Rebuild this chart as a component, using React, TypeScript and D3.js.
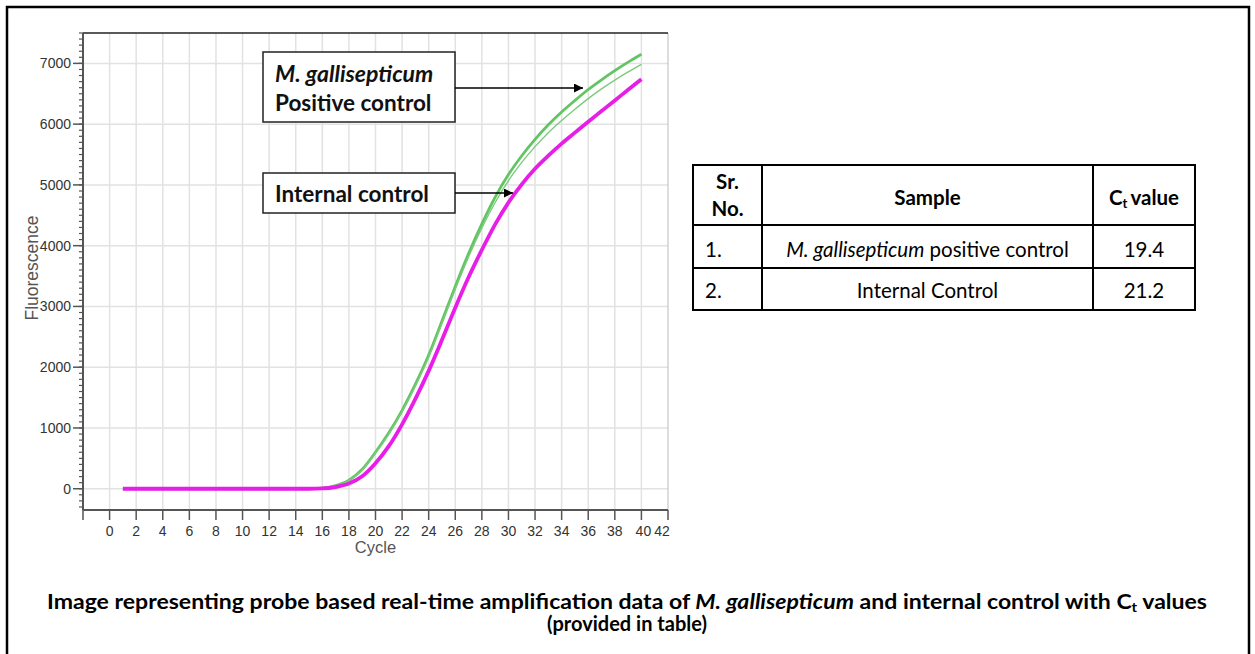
import React from 'react';
import * as d3 from 'd3';

// cycle numbers read on the x axis
const cycles = d3.range(1, 41);

// M. gallisepticum positive control (thick green)
const positiveA = [0, 0, 0, 0, 0, 0, 0, 0, 0, 0, 0, 0, 0, 0, 0, 10, 50, 140, 320, 600,
  920, 1290, 1720, 2200, 2760, 3330, 3870, 4360, 4800, 5170,
  5480, 5750, 5990, 6200, 6390, 6570, 6730, 6880, 7020, 7150];
// second green trace (thin)
const positiveB = [0, 0, 0, 0, 0, 0, 0, 0, 0, 0, 0, 0, 0, 0, 0, 10, 48, 135, 310, 585,
  900, 1265, 1690, 2165, 2720, 3285, 3815, 4290, 4710, 5070,
  5370, 5630, 5860, 6060, 6245, 6420, 6580, 6725, 6860, 6985];
// internal control (magenta)
const internal = [0, 0, 0, 0, 0, 0, 0, 0, 0, 0, 0, 0, 0, 0, 0, 5, 28, 85, 205, 420,
  700, 1060, 1480, 1940, 2450, 2980, 3480, 3930, 4350, 4710,
  5010, 5265, 5480, 5680, 5860, 6040, 6215, 6390, 6565, 6740];

const yTicks = d3.range(0, 8000, 1000);
const yMinor = d3.range(-300, 7600, 100);
const xTicks = d3.range(0, 44, 2);

const tableRows = [
  { no: '1.', italic: 'M. gallisepticum', rest: ' positive control', ct: '19.4' },
  { no: '2.', italic: '', rest: 'Internal Control', ct: '21.2' },
];

const W = 1255;
const H = 654;

export default function App() {
  const left = 83, right = 668, top = 33, bottom = 510;
  const x = d3.scaleLinear().domain([-2, 42]).range([left, right]);
  const y = d3.scaleLinear().domain([-350, 7500]).range([bottom, top]);

  const line = d3.line<number>()
    .x((_, i) => x(cycles[i]))
    .y(d => y(d))
    .curve(d3.curveMonotoneX);

  const axisFont = '"Liberation Sans", Arial, sans-serif';
  const calibri = 'Lato, "Open Sans", sans-serif';

  // table geometry
  const tx0 = 693, tx1 = 762, tx2 = 1093, tx3 = 1195;
  const ty0 = 165, ty1 = 225, ty2 = 268, ty3 = 310;

  return (
    <svg width={W} height={H} style={{ position: 'absolute', left: 0, top: 0 }}>
      <defs>
        <marker id="arrow" viewBox="0 0 10 10" refX="10" refY="5" markerWidth="9" markerHeight="9"
          markerUnits="userSpaceOnUse" orient="auto">
          <path d="M0,0 L10,5 L0,10 z" fill="#000" />
        </marker>
      </defs>
      <rect x={0} y={0} width={W} height={H} fill="#fff" />
      <rect x={7} y={7} width={1242} height={660} fill="none" stroke="#000" strokeWidth={2.5} />

      {/* grid */}
      <g stroke="#e2e2e2" strokeWidth={1.5}>
        {yTicks.map(t => (
          <line key={'gy' + t} x1={left} x2={right} y1={y(t)} y2={y(t)} />
        ))}
        {xTicks.filter(t => t < 42).map(t => (
          <line key={'gx' + t} x1={x(t)} x2={x(t)} y1={top} y2={bottom} />
        ))}
      </g>
      <line x1={right} x2={right} y1={top} y2={bottom} stroke="#bbb" strokeWidth={1} />
      <line x1={left} x2={right} y1={top} y2={top} stroke="#222" strokeWidth={1.5} />

      {/* curves */}
      <path d={line(positiveA) || ''} fill="none" stroke="#62c462" strokeWidth={2.8} />
      <path d={line(positiveB) || ''} fill="none" stroke="#7ccb7c" strokeWidth={1.4} />
      <path d={line(internal) || ''} fill="none" stroke="#e81ee8" strokeWidth={3.8} />

      {/* y axis */}
      <g stroke="#555">
        <line x1={left} x2={left} y1={top} y2={bottom} strokeWidth={2} />
        {yMinor.map(t => (
          <line key={'ym' + t} x1={left - 4} x2={left} y1={y(t)} y2={y(t)} strokeWidth={1.2} />
        ))}
        {yTicks.map(t => (
          <line key={'yt' + t} x1={left - 10} x2={left} y1={y(t)} y2={y(t)} strokeWidth={1.5} />
        ))}
      </g>
      <g fontFamily={axisFont} fontSize={14} fill="#333" textAnchor="end">
        {yTicks.map(t => (
          <text key={'yl' + t} x={left - 12} y={y(t) + 5}>{t}</text>
        ))}
      </g>
      <text transform={`translate(${38},${268}) rotate(-90)`} textAnchor="middle"
        fontFamily={axisFont} fontSize={17.5} fill="#555">Fluorescence</text>

      {/* x axis */}
      <g stroke="#555">
        <line x1={left} x2={right} y1={bottom} y2={bottom} strokeWidth={2} />
        <line x1={left} x2={left} y1={bottom} y2={bottom + 10} strokeWidth={1.5} />
        {xTicks.map(t => (
          <line key={'xt' + t} x1={x(t)} x2={x(t)} y1={bottom} y2={bottom + 10} strokeWidth={1.5} />
        ))}
      </g>
      <g fontFamily={axisFont} fontSize={14} fill="#333" textAnchor="middle">
        {xTicks.map(t => (
          <text key={'xl' + t} x={t === 42 ? x(t) - 6 : t === 40 ? x(t) + 2 : x(t)} y={bottom + 26}>{t}</text>
        ))}
      </g>
      <text x={x(20)} y={bottom + 43} textAnchor="middle" fontFamily={axisFont} fontSize={16.5}
        fill="#555">Cycle</text>

      {/* annotation boxes */}
      <rect x={263} y={52} width={192} height={70} fill="#fff" stroke="#222" strokeWidth={1.5} />
      <text x={275} y={82} fontFamily={calibri} fontSize={23} fontWeight="bold" fontStyle="italic"
        fill="#111">M. gallisepticum</text>
      <text x={275} y={111} fontFamily={calibri} fontSize={22.5} fontWeight="bold" fill="#111">Positive control</text>
      <line x1={455} x2={583} y1={88} y2={88} stroke="#000" strokeWidth={1.5} markerEnd="url(#arrow)" />

      <rect x={263} y={173} width={192} height={40} fill="#fff" stroke="#222" strokeWidth={1.5} />
      <text x={275} y={202} fontFamily={calibri} fontSize={22.5} fontWeight="bold" fill="#111">Internal control</text>
      <line x1={455} x2={513} y1={193} y2={193} stroke="#000" strokeWidth={1.5} markerEnd="url(#arrow)" />

      {/* table */}
      <g stroke="#000" strokeWidth={2}>
        <rect x={tx0} y={ty0} width={tx3 - tx0} height={ty3 - ty0} fill="none" />
        <line x1={tx1} x2={tx1} y1={ty0} y2={ty3} />
        <line x1={tx2} x2={tx2} y1={ty0} y2={ty3} />
        <line x1={tx0} x2={tx3} y1={ty1} y2={ty1} />
        <line x1={tx0} x2={tx3} y1={ty2} y2={ty2} />
      </g>
      <g fontFamily={calibri} fontSize={20.5} fill="#000">
        <text x={(tx0 + tx1) / 2} y={189} textAnchor="middle" fontWeight="bold">Sr.</text>
        <text x={(tx0 + tx1) / 2} y={216} textAnchor="middle" fontWeight="bold">No.</text>
        <text x={(tx1 + tx2) / 2} y={205} textAnchor="middle" fontWeight="bold">Sample</text>
        <text x={(tx2 + tx3) / 2} y={205} textAnchor="middle" fontWeight="bold">
          C<tspan fontSize={13} dy={3}>t</tspan><tspan dy={-3} dx={3}>value</tspan>
        </text>
        {tableRows.map((r, i) => {
          const by = i === 0 ? 257 : 298;
          return (
            <g key={r.no}>
              <text x={tx0 + 12} y={by}>{r.no}</text>
              <text x={(tx1 + tx2) / 2} y={by} textAnchor="middle">
                {r.italic && <tspan fontStyle="italic">{r.italic}</tspan>}
                <tspan>{r.rest}</tspan>
              </text>
              <text x={(tx2 + tx3) / 2} y={by} textAnchor="middle">{r.ct}</text>
            </g>
          );
        })}
      </g>

      {/* caption */}
      <g fontFamily={calibri} fontSize={20} fontWeight="bold" fill="#000" textAnchor="middle">
        <text x={627} y={609} textLength={1160} lengthAdjust="spacingAndGlyphs">
          Image representing probe based real-time amplification data of{' '}
          <tspan fontStyle="italic">M. gallisepticum</tspan> and internal control with C
          <tspan fontSize={13} dy={3}>t</tspan><tspan dy={-3}> values</tspan>
        </text>
        <text x={627} y={631}>(provided in table)</text>
      </g>
    </svg>
  );
}
